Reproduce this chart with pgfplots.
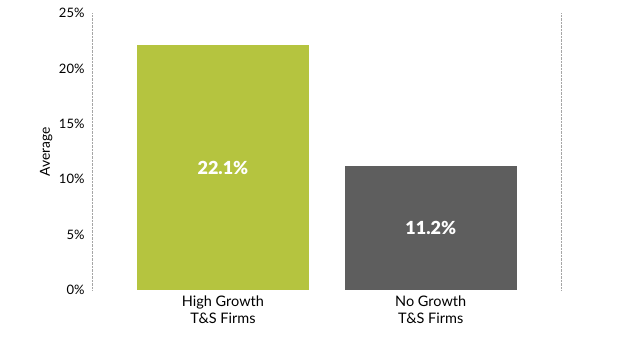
\documentclass[border=0pt]{standalone}
\usepackage{pgfplots}
\pgfplotsset{compat=1.18}
\usepackage{fontspec}
\setmainfont{Lato}
\newfontfamily\latoblack{Lato Black}
\definecolor{barGreen}{HTML}{B5C43F}
\definecolor{barGray}{HTML}{5E5E5E}
\begin{document}
\begin{tikzpicture}[x=1bp,y=1bp]
\path[use as bounding box] (0,0) rectangle (622,360);
\begin{axis}[
  at={(92bp,70bp)}, anchor=south west,
  scale only axis, width=469bp, height=277bp,
  xmin=-0.63, xmax=1.627, ymin=0, ymax=25,
  axis x line=none,
  axis y line*=left,
  separate axis lines,
  y axis line style={gray!70, densely dotted, -},
  ytick={0,5,10,15,20,25},
  yticklabel={\pgfmathprintnumber{\tick}\%},
  yticklabel style={font=\fontsize{13bp}{15bp}\selectfont, text=black, xshift=-4bp},
  /pgf/number format/assume math mode=true,
  major tick length=0pt,
  ylabel={Average},
  ylabel style={font=\fontsize{13.8bp}{15bp}\selectfont, at={(-36bp,0.5)}},
  clip=false,
]
\addplot[ybar, bar width=172bp, fill=barGreen, draw=none] coordinates {(0,22.1)};
\addplot[ybar, bar width=172bp, fill=barGray, draw=none] coordinates {(1,11.2)};
\draw[gray!70, densely dotted] (axis cs:1.627,0) -- (axis cs:1.627,25);
\node[text=white, font=\fontsize{18bp}{20bp}\selectfont\latoblack] at (axis cs:0,11.05) {22.1\%};
\node[text=white, font=\fontsize{18bp}{20bp}\selectfont\latoblack] at (axis cs:1,5.6) {11.2\%};
\node[align=center, anchor=north, font=\fontsize{14.5bp}{17bp}\selectfont] at (axis cs:0,0) [yshift=-2bp] {High Growth\\T\&S Firms};
\node[align=center, anchor=north, font=\fontsize{14.5bp}{17bp}\selectfont] at (axis cs:1,0) [yshift=-2bp] {No Growth\\T\&S Firms};
\end{axis}
\end{tikzpicture}
\end{document}
